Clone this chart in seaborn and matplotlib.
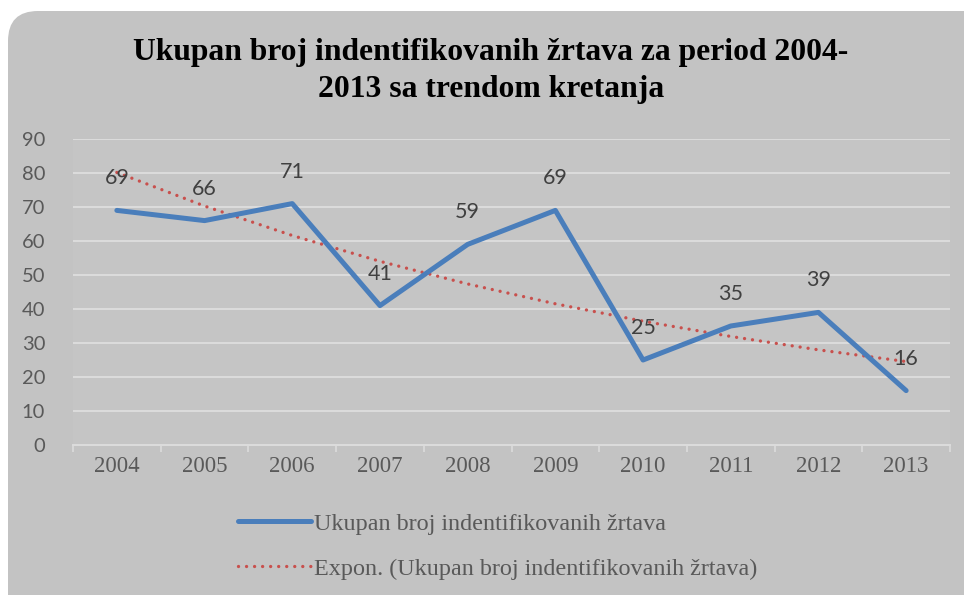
import numpy as np
import pandas as pd
import matplotlib
matplotlib.use("Agg")
import matplotlib.pyplot as plt
from matplotlib.patches import FancyBboxPatch
import seaborn as sns

# podaci
godine = ['2004', '2005', '2006', '2007', '2008', '2009', '2010', '2011', '2012', '2013']
zrtve = [69, 66, 71, 41, 59, 69, 25, 35, 39, 16]
naziv_serije = 'Ukupan broj indentifikovanih žrtava'
naziv_trenda = 'Expon. (Ukupan broj indentifikovanih žrtava)'

df = pd.DataFrame({'poz': np.arange(len(godine)), 'godina': godine, 'zrtve': zrtve})

# eksponencijalni trend kao u Excelu: ln(y) = a + b*x
b, a = np.polyfit(df['poz'] + 1, np.log(df['zrtve']), 1)
df['trend'] = np.exp(a + b * (df['poz'] + 1))

sns.set_theme(style="white")
plt.rcParams['font.family'] = ['Liberation Serif', 'DejaVu Serif']

plava = '#4A7EBB'
crvena = '#C8504D'
siva_bg = '#C3C3C3'
siva_txt = '#595959'

fig = plt.figure(figsize=(9.64, 5.95), dpi=100)
fig.patch.set_facecolor('white')

# zaobljena pozadina grafikona
okvir = FancyBboxPatch((8, -40), 1000, 624, boxstyle="round,pad=0,rounding_size=30",
                       transform=None, facecolor=siva_bg, edgecolor='none', zorder=-5)
fig.patches.append(okvir)

ax = fig.add_axes([73 / 964, 150 / 595, 877 / 964, 306 / 595])
ax.set_facecolor('#C5C5C5')

sns.lineplot(data=df, x='poz', y='zrtve', ax=ax, color=plava, linewidth=3.6,
             label=naziv_serije, zorder=3)
sns.lineplot(data=df, x='poz', y='trend', ax=ax, color=crvena, linewidth=2.4,
             linestyle=(0, (0.01, 2.4)), dash_capstyle='round', label=naziv_trenda, zorder=2)

# vrijednosti iznad tacaka
for x, y in zip(df['poz'], df['zrtve']):
    ax.annotate(str(y), (x, y), xytext=(0, 23), textcoords='offset points',
                ha='center', va='center', fontsize=15.5, color='#404040', family='Lato')

ax.set_xlim(-0.5, len(godine) - 0.5)
ax.set_ylim(0, 90)
ax.set_yticks(range(0, 91, 10))
ax.set_xticks(df['poz'])
ax.set_xticklabels(godine)
ax.set_xticks(np.arange(-0.5, len(godine), 1), minor=True)
ax.set_xlabel('')
ax.set_ylabel('')

ax.yaxis.grid(True, color='#DCDCDC', linewidth=1.4)
ax.xaxis.grid(False)
for s in ['top', 'right', 'left']:
    ax.spines[s].set_visible(False)
ax.spines['bottom'].set_color('#DCDCDC')
ax.spines['bottom'].set_linewidth(1.4)

ax.tick_params(axis='x', which='major', length=0, pad=8, labelsize=16.5, labelcolor=siva_txt)
ax.tick_params(axis='x', which='minor', length=5, width=1.2, color='#DCDCDC', bottom=True)
ax.tick_params(axis='y', length=0, pad=20, labelsize=14.5, labelcolor=siva_txt)
for t in ax.get_yticklabels():
    t.set_family('Lato')

# naslov
fig.text(491 / 964, 1 - 71 / 595, 'Ukupan broj indentifikovanih žrtava za period 2004-\n2013 sa trendom kretanja',
         ha='center', va='center', fontsize=22.8, fontweight='bold', color='black', linespacing=1.33)

# legenda
ax.get_legend().remove()
h, l = ax.get_legend_handles_labels()
leg = fig.legend(h, l, loc='upper left', bbox_to_anchor=(238 / 964, 1 - 513 / 595),
                 frameon=False, fontsize=17.4, handlelength=3.0, handletextpad=0.15,
                 labelspacing=0.95, borderpad=0, borderaxespad=0)
for t in leg.get_texts():
    t.set_color(siva_txt)

fig.savefig('out.png', dpi=100, facecolor=fig.get_facecolor())
